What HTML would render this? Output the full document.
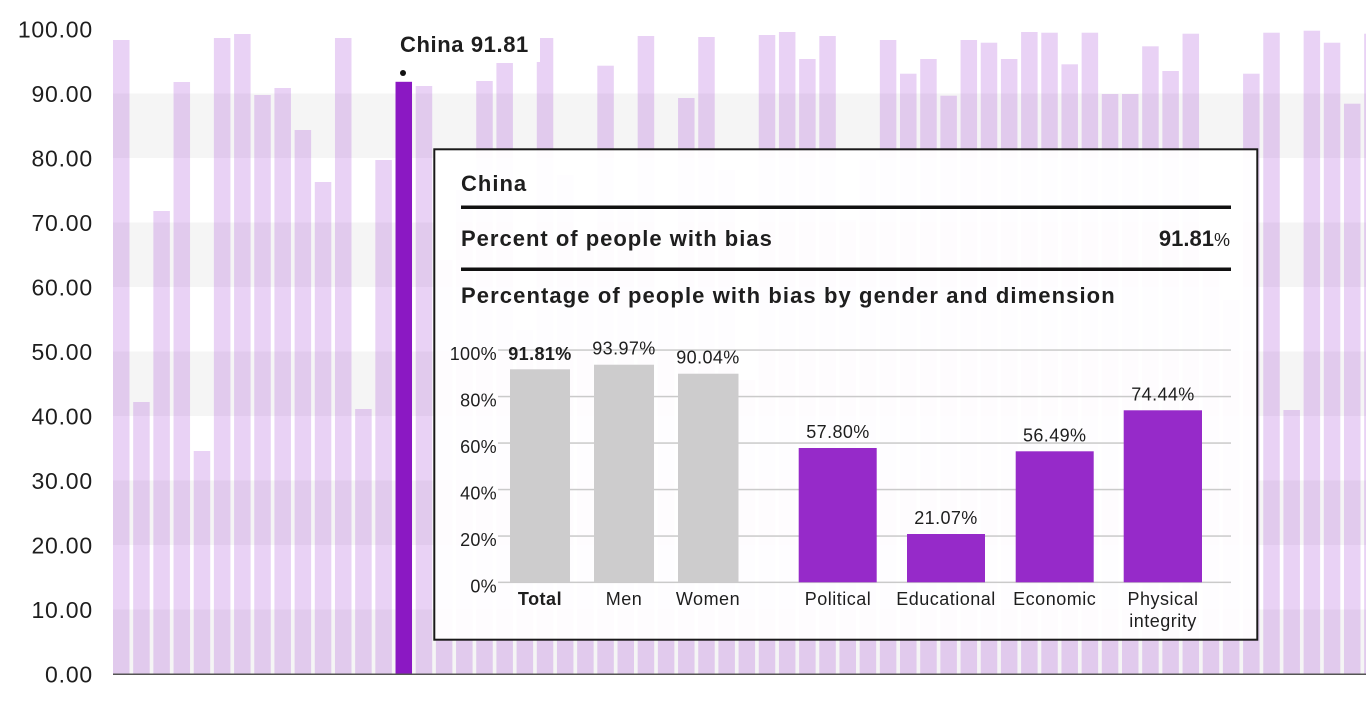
<!DOCTYPE html>
<html><head><meta charset="utf-8"><style>
html,body{margin:0;padding:0;background:#fff;}
svg{display:block;}
text{font-family:"Liberation Sans",Arial,sans-serif;fill:#1e1e1e;}
</style></head><body>
<svg width="1366" height="708" viewBox="0 0 1366 708" xmlns="http://www.w3.org/2000/svg">
<rect x="0" y="0" width="1366" height="708" fill="#ffffff"/>
<!-- bands -->
<g fill="#f5f5f5">
<rect x="113" y="93.5" width="1253" height="64.5"/>
<rect x="113" y="222.5" width="1253" height="64.5"/>
<rect x="113" y="351.5" width="1253" height="64.5"/>
<rect x="113" y="480.5" width="1253" height="64.5"/>
<rect x="113" y="609.5" width="1253" height="64.5"/>
</g>
<!-- bars -->
<g fill="rgba(155,48,208,0.22)">
<rect x="113" y="40" width="16.5" height="634"/>
<rect x="133.18" y="402" width="16.5" height="272"/>
<rect x="153.36" y="211" width="16.5" height="463"/>
<rect x="173.54" y="82" width="16.5" height="592"/>
<rect x="193.72" y="451" width="16.5" height="223"/>
<rect x="213.9" y="38" width="16.5" height="636"/>
<rect x="234.08" y="34" width="16.5" height="640"/>
<rect x="254.26" y="95" width="16.5" height="579"/>
<rect x="274.44" y="88" width="16.5" height="586"/>
<rect x="294.62" y="130" width="16.5" height="544"/>
<rect x="314.8" y="182" width="16.5" height="492"/>
<rect x="334.98" y="38" width="16.5" height="636"/>
<rect x="355.16" y="409" width="16.5" height="265"/>
<rect x="375.34" y="160" width="16.5" height="514"/>
<rect x="415.7" y="86" width="16.5" height="588"/>
<rect x="435.88" y="260" width="16.5" height="414"/>
<rect x="456.06" y="190" width="16.5" height="484"/>
<rect x="476.24" y="81" width="16.5" height="593"/>
<rect x="496.42" y="63" width="16.5" height="611"/>
<rect x="516.6" y="330" width="16.5" height="344"/>
<rect x="536.78" y="38" width="16.5" height="636"/>
<rect x="556.96" y="175" width="16.5" height="499"/>
<rect x="577.14" y="240" width="16.5" height="434"/>
<rect x="597.32" y="65.7" width="16.5" height="608.3"/>
<rect x="617.5" y="200" width="16.5" height="474"/>
<rect x="637.68" y="36" width="16.5" height="638"/>
<rect x="657.86" y="290" width="16.5" height="384"/>
<rect x="678.04" y="98" width="16.5" height="576"/>
<rect x="698.22" y="37" width="16.5" height="637"/>
<rect x="718.4" y="170" width="16.5" height="504"/>
<rect x="738.58" y="380" width="16.5" height="294"/>
<rect x="758.76" y="35" width="16.5" height="639"/>
<rect x="778.94" y="32" width="16.5" height="642"/>
<rect x="799.12" y="59" width="16.5" height="615"/>
<rect x="819.3" y="36" width="16.5" height="638"/>
<rect x="839.48" y="220" width="16.5" height="454"/>
<rect x="859.66" y="160" width="16.5" height="514"/>
<rect x="879.84" y="40" width="16.5" height="634"/>
<rect x="900.02" y="73.7" width="16.5" height="600.3"/>
<rect x="920.2" y="59" width="16.5" height="615"/>
<rect x="940.38" y="95.7" width="16.5" height="578.3"/>
<rect x="960.56" y="40" width="16.5" height="634"/>
<rect x="980.74" y="42.7" width="16.5" height="631.3"/>
<rect x="1000.92" y="59" width="16.5" height="615"/>
<rect x="1021.1" y="32" width="16.5" height="642"/>
<rect x="1041.28" y="32.7" width="16.5" height="641.3"/>
<rect x="1061.46" y="64.3" width="16.5" height="609.7"/>
<rect x="1081.64" y="32.7" width="16.5" height="641.3"/>
<rect x="1101.82" y="94" width="16.5" height="580"/>
<rect x="1122" y="94" width="16.5" height="580"/>
<rect x="1142.18" y="46.3" width="16.5" height="627.7"/>
<rect x="1162.36" y="71" width="16.5" height="603"/>
<rect x="1182.54" y="33.7" width="16.5" height="640.3"/>
<rect x="1202.72" y="270" width="16.5" height="404"/>
<rect x="1222.9" y="300" width="16.5" height="374"/>
<rect x="1243.08" y="73.7" width="16.5" height="600.3"/>
<rect x="1263.26" y="32.7" width="16.5" height="641.3"/>
<rect x="1283.44" y="410" width="16.5" height="264"/>
<rect x="1303.62" y="30.7" width="16.5" height="643.3"/>
<rect x="1323.8" y="42.7" width="16.5" height="631.3"/>
<rect x="1343.98" y="103.7" width="16.5" height="570.3"/>
<rect x="1364.16" y="33.7" width="16.5" height="640.3"/>
</g>
<!-- highlighted China bar -->
<rect x="395.52" y="81.8" width="16.5" height="592.2" fill="#8b18c3"/>
<!-- axis -->
<rect x="113" y="673.5" width="1253" height="1.5" fill="#555"/>
<!-- y tick labels -->
<g font-size="23" text-anchor="end" letter-spacing="0.8">
<text x="93" y="37.5">100.00</text>
<text x="93" y="102">90.00</text>
<text x="93" y="166.5">80.00</text>
<text x="93" y="231">70.00</text>
<text x="93" y="295.5">60.00</text>
<text x="93" y="360">50.00</text>
<text x="93" y="424.5">40.00</text>
<text x="93" y="489">30.00</text>
<text x="93" y="553.5">20.00</text>
<text x="93" y="618">10.00</text>
<text x="93" y="682.5">0.00</text>
</g>
<!-- China label -->
<rect x="396" y="14" width="144" height="48" fill="#ffffff"/>
<text x="400" y="52" font-size="22" font-weight="bold" letter-spacing="0.6">China 91.81</text>
<circle cx="403" cy="73" r="3" fill="#111"/>
<!-- tooltip -->
<rect x="434.3" y="149.3" width="823" height="490.4" fill="rgba(255,255,255,0.94)" stroke="#1a1a1a" stroke-width="2"/>
<text x="461" y="191" font-size="22" font-weight="bold" letter-spacing="1">China</text>
<rect x="461" y="205.5" width="770" height="3.5" fill="#111"/>
<text x="461" y="246" font-size="22" font-weight="bold" letter-spacing="1">Percent of people with bias</text>
<text x="1230" y="246" text-anchor="end"><tspan font-size="22" font-weight="bold">91.81</tspan><tspan font-size="18">%</tspan></text>
<rect x="461" y="267.5" width="770" height="3.5" fill="#111"/>
<text x="461" y="303" font-size="22" font-weight="bold" letter-spacing="1.1">Percentage of people with bias by gender and dimension</text>
<!-- inner gridlines -->
<g fill="#cacaca">
<rect x="498" y="349.3" width="733" height="1.5"/>
<rect x="498" y="395.8" width="733" height="1.5"/>
<rect x="498" y="442.3" width="733" height="1.5"/>
<rect x="498" y="488.8" width="733" height="1.5"/>
<rect x="498" y="535.3" width="733" height="1.5"/>
<rect x="498" y="581.6" width="733" height="1.5"/>
</g>
<g font-size="18" text-anchor="end" letter-spacing="0.3">
<text x="497" y="360">100%</text>
<text x="497" y="406.5">80%</text>
<text x="497" y="453">60%</text>
<text x="497" y="499.5">40%</text>
<text x="497" y="546">20%</text>
<text x="497" y="592.3">0%</text>
</g>
<!-- inner bars -->
<g fill="#cdcccd">
<rect x="510" y="369.3" width="60" height="213"/>
<rect x="594" y="364.7" width="60" height="217.6"/>
<rect x="678" y="373.7" width="60.5" height="208.6"/>
</g>
<g fill="#962ac9">
<rect x="798.7" y="448" width="78" height="134.3"/>
<rect x="907" y="534" width="78" height="48.3"/>
<rect x="1015.7" y="451.3" width="78" height="131"/>
<rect x="1123.7" y="410.3" width="78.3" height="172"/>
</g>
<!-- value labels -->
<g font-size="18" text-anchor="middle" letter-spacing="0.4">
<text x="540" y="360" font-weight="bold">91.81%</text>
<text x="624" y="354.3">93.97%</text>
<text x="708" y="363.5">90.04%</text>
<text x="838" y="438">57.80%</text>
<text x="946" y="524">21.07%</text>
<text x="1054.7" y="441.3">56.49%</text>
<text x="1163" y="400.3">74.44%</text>
</g>
<!-- x labels -->
<g font-size="18" text-anchor="middle" letter-spacing="0.5">
<text x="540" y="605" font-weight="bold">Total</text>
<text x="624" y="605">Men</text>
<text x="708" y="605">Women</text>
<text x="838" y="605">Political</text>
<text x="946" y="605">Educational</text>
<text x="1054.7" y="605">Economic</text>
<text x="1163" y="605">Physical</text>
<text x="1163" y="627">integrity</text>
</g>
</svg>
</body></html>
